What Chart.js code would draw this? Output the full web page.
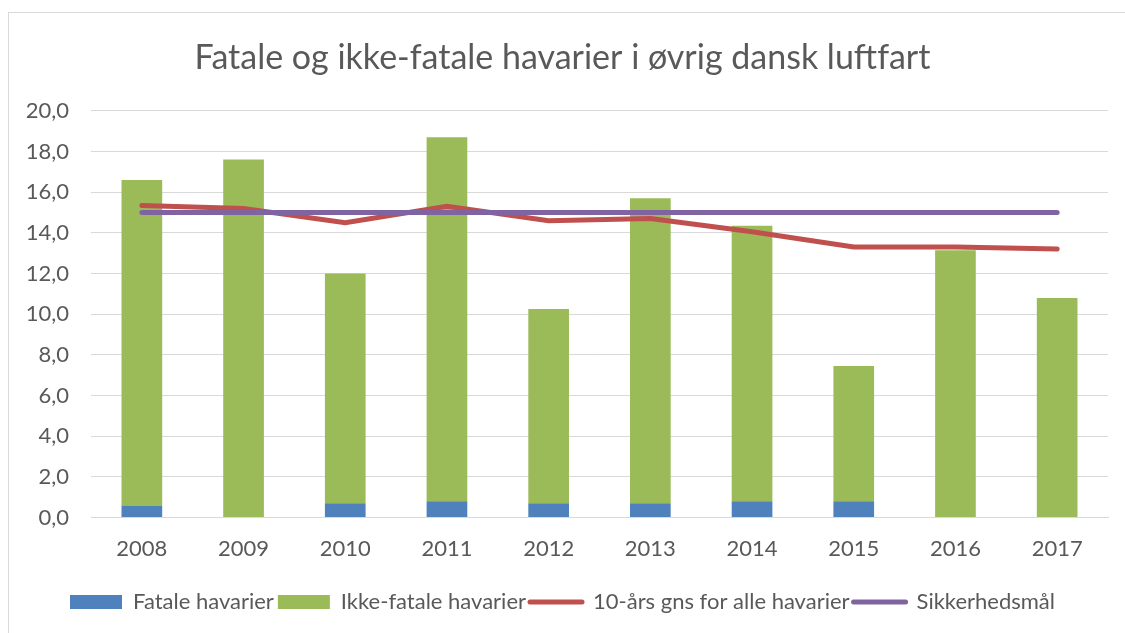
<!DOCTYPE html>
<html>
<head>
<meta charset="utf-8">
<script src="https://cdn.jsdelivr.net/npm/chart.js@4/dist/chart.umd.min.js"></script>
<style>
  html, body { margin: 0; padding: 0; background: #fff; }
  #wrap { width: 1125px; height: 633px; position: relative; }
</style>
</head>
<body>
<div id="wrap"><canvas id="havarier" width="1125" height="633"></canvas></div>
<script>
const years = ["2008", "2009", "2010", "2011", "2012", "2013", "2014", "2015", "2016", "2017"];
const fatale = [0.6, 0, 0.7, 0.8, 0.7, 0.7, 0.8, 0.8, 0, 0];
const ikkeFatale = [16.0, 17.6, 11.3, 17.9, 9.55, 15.0, 13.55, 6.65, 13.15, 10.8];
const gns10aar = [15.35, 15.2, 14.5, 15.3, 14.6, 14.7, 14.05, 13.3, 13.3, 13.2];
const sikkerhedsmaal = [15, 15, 15, 15, 15, 15, 15, 15, 15, 15];

const grey = "#595959";
const fontFam = "Lato, 'Open Sans', sans-serif";

// white background + light frame like the Excel chart
const frame = {
  id: "frame",
  beforeDraw(chart) {
    const ctx = chart.ctx;
    ctx.save();
    ctx.fillStyle = "#fff";
    ctx.fillRect(0, 0, chart.width, chart.height);
    ctx.strokeStyle = "#d9d9d9";
    ctx.lineWidth = 1;
    ctx.strokeRect(8.5, 12.5, chart.width + 20, chart.height + 20);
    ctx.restore();
  }
};

const ctx = document.getElementById("havarier").getContext("2d");
const chart = new Chart(ctx, {
  type: "bar",
  data: {
    labels: years,
    datasets: [
      {
        label: "Fatale havarier",
        data: fatale,
        backgroundColor: "#4f81bd",
        stack: "bars",
        order: 2
      },
      {
        label: "Ikke-fatale havarier",
        data: ikkeFatale,
        backgroundColor: "#9bbb59",
        stack: "bars",
        order: 2
      },
      {
        type: "line",
        label: "10-års gns for alle havarier",
        data: gns10aar,
        borderColor: "#c0504d",
        backgroundColor: "#c0504d",
        borderWidth: 5,
        borderCapStyle: "round",
        pointRadius: 0,
        stack: "gns",
        order: 1
      },
      {
        type: "line",
        label: "Sikkerhedsmål",
        data: sikkerhedsmaal,
        borderColor: "#8064a2",
        backgroundColor: "#8064a2",
        borderWidth: 5,
        borderCapStyle: "round",
        pointRadius: 0,
        stack: "maal",
        order: 0
      }
    ]
  },
  plugins: [frame],
  options: {
    responsive: false,
    animation: false,
    layout: { padding: { left: 17, right: 17, top: 0, bottom: 10 } },
    datasets: {
      bar: { categoryPercentage: 1.0, barPercentage: 0.4 }
    },
    scales: {
      x: {
        stacked: true,
        afterFit(scale) { scale.height += 7; },
        grid: { display: false, drawTicks: false },
        border: { display: true, color: "#d9d9d9" },
        ticks: { color: grey, font: { family: fontFam, size: 22 }, padding: 18 }
      },
      y: {
        stacked: true,
        min: 0,
        max: 20,
        afterFit(scale) { scale.width = 74; },
        grid: { color: "#d9d9d9", lineWidth: 1, drawTicks: false },
        border: { display: false },
        ticks: {
          stepSize: 2,
          color: grey,
          padding: 22,
          font: { family: fontFam, size: 22 },
          callback: v => v.toFixed(1).replace(".", ",")
        }
      }
    },
    plugins: {
      title: {
        display: true,
        text: "Fatale og ikke-fatale havarier i øvrig dansk luftfart",
        color: grey,
        font: { family: fontFam, size: 34, weight: "normal" },
        padding: { top: 38, bottom: 32 }
      },
      legend: {
        position: "bottom",
        labels: {
          color: grey,
          font: { family: fontFam, size: 22 },
          usePointStyle: true,
          pointStyleWidth: 52,
          boxHeight: 14,
          padding: 4,
          generateLabels(chart) {
            return chart.data.datasets.map((ds, i) => ({
              text: ds.label,
              fillStyle: ds.backgroundColor,
              strokeStyle: ds.type === "line" ? ds.borderColor : ds.backgroundColor,
              lineWidth: ds.type === "line" ? 5 : 0,
              lineCap: "round",
              pointStyle: ds.type === "line" ? "line" : "rect",
              fontColor: grey,
              hidden: false,
              datasetIndex: i
            }));
          }
        }
      },
      tooltip: { enabled: false }
    }
  }
});
</script>
</body>
</html>
